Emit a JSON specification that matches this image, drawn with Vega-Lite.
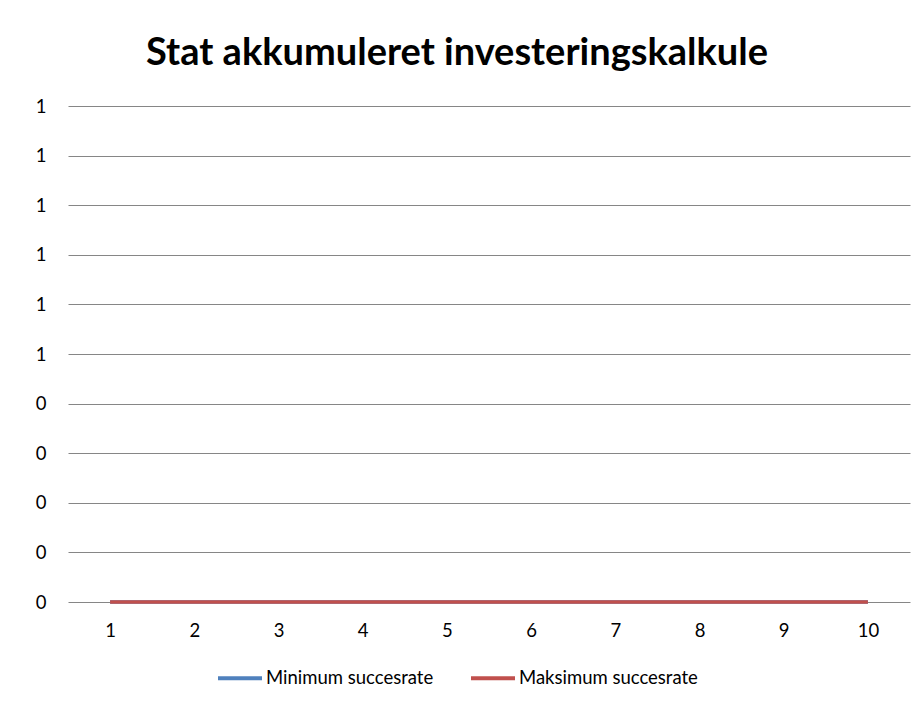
{
  "$schema": "https://vega.github.io/schema/vega-lite/v6.json",
  "width": 842,
  "height": 496,
  "autosize": {"type": "none"},
  "padding": {"left": 68, "top": 106, "right": 2, "bottom": 104},
  "background": "white",
  "title": {
    "text": "Stat akkumuleret investeringskalkule",
    "font": "Lato",
    "fontSize": 38,
    "fontWeight": "bold",
    "color": "#000000",
    "anchor": "middle",
    "dx": -32,
    "offset": 24
  },
  "data": {
    "values": [
      {"x": 1, "serie": "Minimum succesrate", "v": 0},
      {"x": 2, "serie": "Minimum succesrate", "v": 0},
      {"x": 3, "serie": "Minimum succesrate", "v": 0},
      {"x": 4, "serie": "Minimum succesrate", "v": 0},
      {"x": 5, "serie": "Minimum succesrate", "v": 0},
      {"x": 6, "serie": "Minimum succesrate", "v": 0},
      {"x": 7, "serie": "Minimum succesrate", "v": 0},
      {"x": 8, "serie": "Minimum succesrate", "v": 0},
      {"x": 9, "serie": "Minimum succesrate", "v": 0},
      {"x": 10, "serie": "Minimum succesrate", "v": 0},
      {"x": 1, "serie": "Maksimum succesrate", "v": 0},
      {"x": 2, "serie": "Maksimum succesrate", "v": 0},
      {"x": 3, "serie": "Maksimum succesrate", "v": 0},
      {"x": 4, "serie": "Maksimum succesrate", "v": 0},
      {"x": 5, "serie": "Maksimum succesrate", "v": 0},
      {"x": 6, "serie": "Maksimum succesrate", "v": 0},
      {"x": 7, "serie": "Maksimum succesrate", "v": 0},
      {"x": 8, "serie": "Maksimum succesrate", "v": 0},
      {"x": 9, "serie": "Maksimum succesrate", "v": 0},
      {"x": 10, "serie": "Maksimum succesrate", "v": 0}
    ]
  },
  "mark": {"type": "line", "strokeWidth": 3.5, "clip": false},
  "encoding": {
    "x": {
      "field": "x",
      "type": "ordinal",
      "sort": null,
      "scale": {"type": "point", "padding": 0.5},
      "axis": {
        "title": null,
        "labelAngle": 0,
        "labelFont": "Lato",
        "labelFontSize": 18.5,
        "labelColor": "#000000",
        "labelPadding": 19,
        "ticks": false,
        "domain": false,
        "grid": false
      }
    },
    "y": {
      "field": "v",
      "type": "quantitative",
      "scale": {"domain": [0, 1], "nice": false, "zero": true},
      "axis": {
        "title": null,
        "values": [0, 0.1, 0.2, 0.3, 0.4, 0.5, 0.6, 0.7, 0.8, 0.9, 1],
        "format": ".0f",
        "labelFont": "Lato",
        "labelFontSize": 18.5,
        "labelColor": "#000000",
        "labelPadding": 22,
        "ticks": false,
        "domain": false,
        "grid": true,
        "gridColor": "#868686",
        "gridWidth": 1,
        "gridOpacity": 1
      }
    },
    "color": {
      "field": "serie",
      "type": "nominal",
      "sort": ["Minimum succesrate", "Maksimum succesrate"],
      "scale": {
        "domain": ["Minimum succesrate", "Maksimum succesrate"],
        "range": ["#4F81BD", "#C0504D"]
      },
      "legend": {
        "title": null,
        "orient": "none",
        "direction": "horizontal",
        "legendX": 148,
        "legendY": 548,
        "symbolType": "stroke",
        "symbolSize": 1936,
        "symbolStrokeWidth": 4,
        "labelFont": "Lato",
        "labelFontSize": 18.5,
        "labelColor": "#000000",
        "labelOffset": 2,
        "labelLimit": 0,
        "columnPadding": 29,
        "padding": 0
      }
    }
  },
  "config": {
    "view": {"stroke": null}
  }
}
